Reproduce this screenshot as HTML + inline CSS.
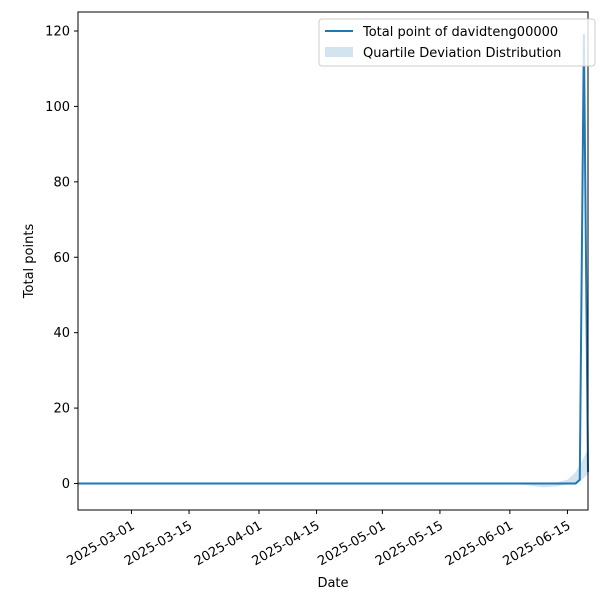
<!DOCTYPE html>
<html><head><meta charset="utf-8"><style>
body{margin:0;background:#fff;font-family:"Liberation Sans","DejaVu Sans",sans-serif;}
svg text{font-family:"DejaVu Sans","Liberation Sans",sans-serif;}
</style></head><body>
<svg id="chart" width="600" height="600" xmlns="http://www.w3.org/2000/svg">
<rect width="600" height="600" fill="#fff"/>
<g id="band"></g>
<g id="line"></g>
<rect x="78" y="12" width="510" height="498" fill="none" stroke="#000" stroke-width="1"/>
<g id="xticks"></g>
<g id="yticks"></g>
<text x="333" y="587" font-size="13" text-anchor="middle">Date</text>
<text transform="translate(33,261) rotate(-90)" font-size="13" text-anchor="middle">Total points</text>
<g>
<rect x="319" y="19" width="276" height="47" rx="3" fill="#fff" fill-opacity="0.8" stroke="#ccc"/>
<line x1="325" y1="31" x2="353" y2="31" stroke="#1f77b4" stroke-width="2"/>
<text x="363" y="36" font-size="13">Total point of davidteng00000</text>
<rect x="325" y="47" width="28" height="10" fill="#1f77b4" fill-opacity="0.2"/>
<text x="363" y="57" font-size="13">Quartile Deviation Distribution</text>
</g>
</svg>
<script>
const lineDates=["2025-02-16","2025-06-17","2025-06-18","2025-06-19","2025-06-20"];
const lineValues=[0,0,1,119,3];
const bandDates=["2025-02-16","2025-06-01","2025-06-05","2025-06-09","2025-06-12","2025-06-15","2025-06-17","2025-06-18","2025-06-19","2025-06-20"];
const bandUpper=[0,0,0,0,0.2,1,3,5,7,9];
const bandLower=[0,0,-0.4,-1,-0.8,-0.3,0,0.5,1.5,2.5];
const yTicks=[0,20,40,60,80,100,120];
const xTickLabels=["2025-03-01","2025-03-15","2025-04-01","2025-04-15","2025-05-01","2025-05-15","2025-06-01","2025-06-15"];
const d0=Date.parse("2025-02-16"),d1=Date.parse("2025-06-20");
const X=d=>78+(Date.parse(d)-d0)/(d1-d0)*510;
const Y=v=>483.5-v*(452.5/120);
const NS="http://www.w3.org/2000/svg";
function mk(t,a,p){const e=document.createElementNS(NS,t);for(const k in a)e.setAttribute(k,a[k]);p.appendChild(e);return e;}
let pts=bandDates.map((d,i)=>X(d)+","+Y(bandUpper[i]));
for(let i=bandDates.length-1;i>=0;i--)pts.push(X(bandDates[i])+","+Y(bandLower[i]));
const bp=mk("polygon",{points:pts.join(" "),fill:"#1f77b4","fill-opacity":"0.2"},document.getElementById("band"));


const lp=mk("polyline",{points:lineDates.map((d,i)=>X(d)+","+Y(lineValues[i])).join(" "),fill:"none",stroke:"#1f77b4","stroke-width":"2","stroke-linejoin":"round"},document.getElementById("line"));


const yg=document.getElementById("yticks");
yTicks.forEach(v=>{const y=Y(v);
const l=mk("line",{x1:74,x2:78,y1:y,y2:y,stroke:"#000"},yg);


const t=mk("text",{x:70,y:y+4.5,"font-size":"13","text-anchor":"end"},yg);t.textContent=v;

});
const xg=document.getElementById("xticks");
xTickLabels.forEach(d=>{const x=X(d);
const l=mk("line",{x1:x,x2:x,y1:510,y2:514,stroke:"#000"},xg);


const t=mk("text",{x:0,y:0,"font-size":"13","text-anchor":"end",transform:`translate(${x+4},${528}) rotate(-30)`},xg);t.textContent=d;

});
</script>
</body></html>
